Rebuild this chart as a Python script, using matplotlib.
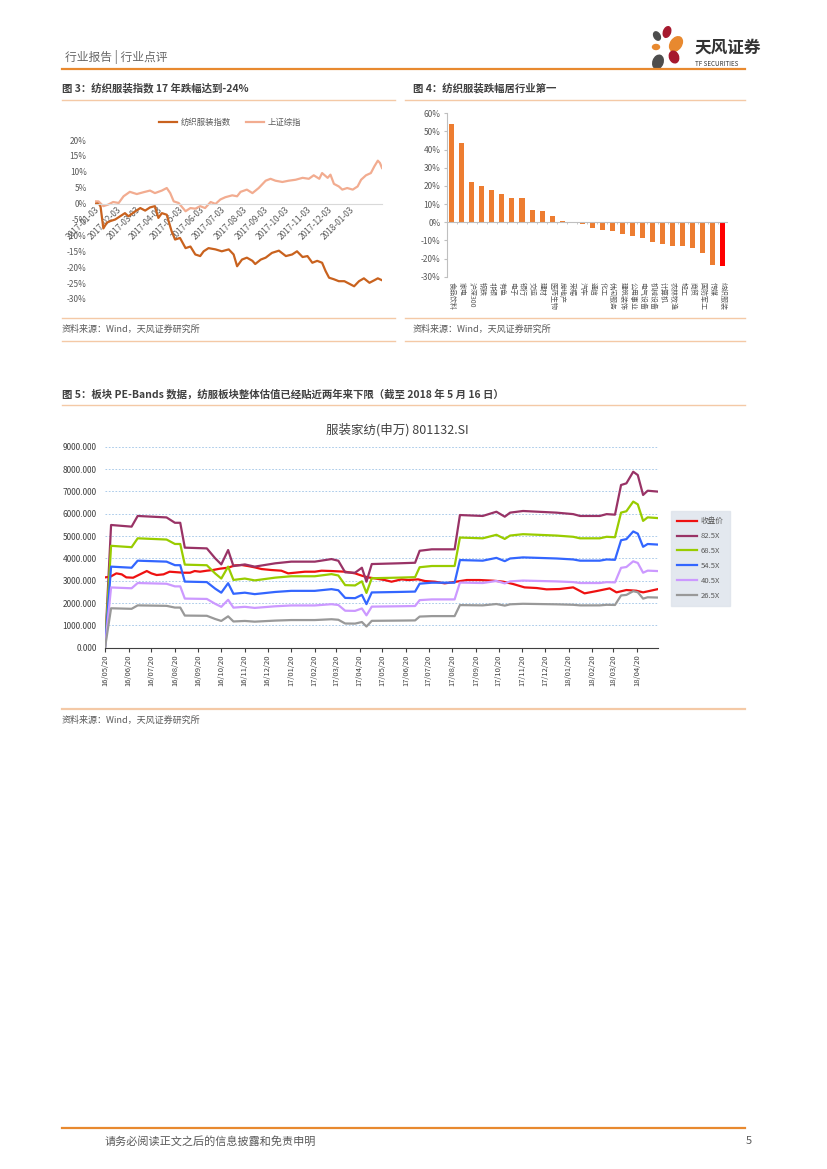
import matplotlib
matplotlib.use('Agg')
import matplotlib.pyplot as plt
from matplotlib.lines import Line2D
from matplotlib.patches import Ellipse
import numpy as np
import pandas as pd

plt.rcParams['font.family'] = ['Noto Sans CJK SC', 'DejaVu Sans']

# 图3: 纺织服装指数 / 上证综指 累计涨跌幅 (%), 以 2017-01-03 起的天数计
idx_days = [0, 5, 8, 12, 17, 22, 29, 36, 43, 48, 58, 65, 72, 79, 86, 91, 96, 103, 110, 115,
            122, 130, 137, 144, 151, 156, 163, 173, 182, 192, 199, 204, 211, 218, 226, 230,
            238, 245, 254, 264, 274, 283, 290, 298, 305, 312, 319, 326, 331, 336, 343, 350,
            358, 365, 372, 379, 386, 394, 401, 406, 412]
idx_vals = [0.0, 0.3, -1.0, -7.8, -6.0, -5.5, -5.0, -4.0, -3.0, -4.0, -2.4, -1.4, -2.2, -1.2,
            -0.8, -4.5, -3.0, -3.5, -8.7, -11.3, -10.8, -14.0, -13.5, -16.0, -16.5, -15.0,
            -14.0, -14.4, -15.0, -14.4, -16.0, -19.7, -17.6, -17.0, -18.0, -19.0, -17.6, -17.0,
            -15.5, -14.8, -16.5, -16.0, -15.0, -16.8, -16.5, -18.6, -18.0, -18.6, -21.2, -23.3,
            -23.8, -24.4, -24.4, -25.2, -26.0, -24.4, -23.5, -24.9, -24.1, -23.5, -24.1]
sh_days = [0, 5, 12, 19, 26, 34, 41, 50, 60, 70, 79, 86, 96, 103, 108, 113, 120, 130, 137, 144,
           151, 158, 166, 173, 180, 187, 197, 204, 209, 218, 226, 235, 245, 252, 259, 269, 278,
           288, 298, 307, 314, 322, 326, 334, 338, 343, 350, 355, 362, 370, 377, 382, 389, 396,
           401, 406, 409, 412]
sh_vals = [0.7, 0.7, -0.8, -0.3, 0.5, 0.2, 2.3, 3.7, 3.0, 3.6, 4.1, 3.3, 4.1, 4.9, 3.3, 0.7, 0.2,
           -2.4, -1.4, -1.6, -0.8, -1.4, 0.5, -0.1, 1.3, 2.0, 2.6, 2.3, 3.7, 4.4, 3.3, 4.9, 7.2,
           7.8, 7.2, 6.8, 7.2, 7.5, 8.1, 7.8, 8.9, 7.8, 9.6, 8.1, 9.1, 6.2, 5.4, 4.4, 4.9, 4.4,
           5.4, 7.5, 8.9, 9.6, 11.7, 13.5, 12.8, 11.2]

# 图4: 各行业涨跌幅 (%)
industries = ['食品饮料', '家电', '沪深300', '钢铁', '非银', '有色', '电子', '银行', '交运', '建材',
              '医药生物', '房地产', '采掘', '汽车', '通信', '化工', '休闲服务', '建筑装饰', '公用事业',
              '电气设备', '机械设备', '计算机', '农林牧渔', '轻工', '商贸', '国防军工', '传媒', '纺织服装']
ind_change = [54.0, 43.4, 21.9, 19.9, 17.5, 15.4, 13.6, 13.4, 6.6, 6.1, 3.7, 0.9, -0.4, -0.9,
              -3.3, -4.2, -4.6, -6.6, -7.7, -8.8, -10.7, -11.9, -13.1, -13.1, -14.2, -17.1,
              -23.7, -24.3]

# 图5: 收盘价与 PE-Bands, 以 2016-05-20 起的天数计
close_days = [0, 7, 15, 22, 28, 37, 46, 55, 61, 68, 77, 85, 103, 112, 118, 125, 134, 142, 151,
              162, 171, 180, 188, 197, 206, 219, 232, 241, 250, 263, 276, 285, 298, 316, 329, 338,
              346, 355, 368, 377, 390, 399, 412, 421, 434, 447, 462, 476, 493, 511, 524, 537,
              552, 568, 581, 598, 616, 631, 647, 664, 673, 686, 699, 708, 728]
close_vals = [3149, 3179, 3328, 3284, 3149, 3134, 3284, 3433, 3328, 3254, 3284, 3403, 3358, 3358,
              3433, 3403, 3448, 3478, 3537, 3582, 3687, 3701, 3657, 3597, 3522, 3478, 3448, 3328,
              3358, 3403, 3403, 3448, 3433, 3403, 3328, 3224, 3149, 3104, 3030, 2955, 3060, 3030,
              3060, 2985, 2955, 2881, 2955, 3030, 3030, 3000, 2955, 2851, 2701, 2672, 2612, 2627,
              2701, 2433, 2537, 2657, 2478, 2582, 2552, 2478, 2627]
eps_days = [0, 8, 35, 43, 81, 92, 99, 105, 134, 145, 153, 162, 169, 184, 197, 224, 245, 276, 298,
            307, 316, 329, 338, 344, 351, 386, 408, 414, 430, 460, 467, 497, 515, 526, 533, 550,
            594, 616, 625, 651, 660, 671, 679, 686, 695, 701, 708, 714, 728]
eps_vals = [0, 66.6, 65.7, 71.5, 70.7, 67.8, 67.8, 54.3, 53.9, 48.5, 45.2, 53.0, 44.3, 45.2, 44.0,
            45.8, 46.7, 46.7, 48.1, 47.2, 40.9, 40.7, 43.4, 35.8, 45.4, 45.8, 46.1, 52.6, 53.4,
            53.4, 72.0, 71.5, 73.8, 71.1, 73.3, 74.2, 73.3, 72.5, 71.5, 71.5, 72.5, 72.2, 88.3,
            89.2, 95.5, 93.7, 82.9, 85.2, 84.7]
pe_multiples = [82.5, 68.5, 54.5, 40.5, 26.5]
band_colors = ['#993366', '#99CC00', '#3366FF', '#CC99FF', '#999999']

W, H = 827, 1169
ORANGE = '#E8892F'
RULE = '#F4C9A6'
GREY = '#595959'


def fx(x):
    return x / W


def fy(y):
    return 1 - y / H


def rect(l, t, r, b):
    return [l / W, 1 - b / H, (r - l) / W, (b - t) / H]


def hline(y, x0, x1, color, lw):
    fig.add_artist(Line2D([fx(x0), fx(x1)], [fy(y), fy(y)], color=color, lw=lw,
                          transform=fig.transFigure))


fig = plt.figure(figsize=(8.27, 11.69), dpi=100, facecolor='white')

# 页眉
fig.text(fx(65), fy(57), '行业报告 | 行业点评', fontsize=8.5, color='#666666', va='center')
hline(68.5, 62, 745, ORANGE, 1.6)
logo = fig.add_axes(rect(640, 22, 700, 72))
logo.set_xlim(640, 700)
logo.set_ylim(72, 22)
logo.axis('off')
for (cx, cy, w, h, a, c) in [(657, 36, 6, 9, -30, '#4D4D4D'), (667, 32, 7, 11, 20, '#A6192E'),
                             (676, 44, 11, 16, 35, '#E8892F'), (656, 47, 7, 5, 0, '#E8892F'),
                             (674, 57, 9, 12, -20, '#A6192E'), (658, 62, 10, 14, 20, '#4D4D4D')]:
    logo.add_patch(Ellipse((cx, cy), w, h, angle=a, color=c))
fig.text(fx(694), fy(48), '天风证券', fontsize=12, fontweight='bold', color='#333333', va='center')
fig.text(fx(695), fy(64), 'TF SECURITIES', fontsize=4.5, color='#333333', va='center')

# 标题
fig.text(fx(62), fy(88), '图 3：纺织服装指数 17 年跌幅达到-24%', fontsize=7.5, fontweight='bold',
         color='#404040', va='center')
fig.text(fx(413), fy(88), '图 4：纺织服装跌幅居行业第一', fontsize=7.5, fontweight='bold',
         color='#404040', va='center')
hline(100, 62, 395, RULE, 1.0)
hline(100, 405, 745, RULE, 1.0)
hline(318, 62, 395, RULE, 1.0)
hline(318, 405, 745, RULE, 1.0)
hline(341, 62, 395, RULE, 1.0)
hline(341, 405, 745, RULE, 1.0)
fig.text(fx(62), fy(329), '资料来源：Wind，天风证券研究所', fontsize=6.5, color=GREY, va='center')
fig.text(fx(413), fy(329), '资料来源：Wind，天风证券研究所', fontsize=6.5, color=GREY, va='center')

# 图3
ax3 = fig.add_axes(rect(95, 140, 382, 299))
start3 = pd.Timestamp('2017-01-03')
l1, = ax3.plot(start3 + pd.to_timedelta(idx_days, unit='D'), idx_vals, color='#C9621E', lw=1.6)
l2, = ax3.plot(start3 + pd.to_timedelta(sh_days, unit='D'), sh_vals, color='#F2AC90', lw=1.6)
ax3.set_xlim(start3, start3 + pd.Timedelta(days=412))
ax3.set_ylim(-30, 20)
ax3.set_yticks(range(-30, 21, 5))
ax3.set_yticklabels([f'{v}%' for v in range(-30, 21, 5)])
for s in ['top', 'right', 'left']:
    ax3.spines[s].set_visible(False)
ax3.spines['bottom'].set_position(('data', 0))
ax3.spines['bottom'].set_color('#D9D9D9')
ticks3 = pd.date_range('2017-01-03', '2018-01-03', freq=pd.DateOffset(months=1))
ax3.set_xticks(ticks3)
ax3.set_xticklabels([d.strftime('%Y-%m-%d') for d in ticks3])
ax3.tick_params(axis='x', length=0, pad=1, labelsize=6, labelcolor=GREY)
ax3.tick_params(axis='y', length=0, pad=6, labelsize=6, labelcolor=GREY)
for lbl in ax3.get_xticklabels():
    lbl.set_rotation(45)
    lbl.set_ha('right')
    lbl.set_va('top')
    lbl.set_rotation_mode('anchor')
ax3.set_facecolor('none')
fig.legend([l1, l2], ['纺织服装指数', '上证综指'], loc='center', bbox_to_anchor=(fx(230), fy(122)),
           ncol=2, frameon=False, fontsize=6, handlelength=2.2, columnspacing=1.8,
           handletextpad=0.4, labelcolor=GREY)

# 图4
ax4 = fig.add_axes(rect(446.7, 113.3, 727.8, 276.7))
x4 = np.arange(len(industries))
bar_colors = ['#ED7D31'] * (len(industries) - 1) + ['#FF0000']
ax4.bar(x4, ind_change, width=0.5, color=bar_colors)
ax4.set_xlim(-0.5, len(industries) - 0.5)
ax4.set_ylim(-30, 60)
ax4.axhline(0, color='#BFBFBF', lw=0.8)
ax4.vlines(np.arange(len(industries) + 1) - 0.5, -1.0, 0, color='#BFBFBF', lw=0.6)
ax4.set_yticks(range(-30, 61, 10))
ax4.set_yticklabels([f'{v}%' for v in range(-30, 61, 10)])
ax4.set_xticks(x4)
ax4.set_xticklabels(industries, rotation=270, fontsize=5, color=GREY, va='top', ha='center')
ax4.tick_params(axis='x', length=0, pad=3.6)
ax4.tick_params(axis='y', length=2.5, color='#BFBFBF', labelsize=6, labelcolor=GREY, pad=2)
for s in ['top', 'right', 'bottom']:
    ax4.spines[s].set_visible(False)
ax4.spines['left'].set_color('#BFBFBF')
ax4.set_facecolor('none')

# 图5
fig.text(fx(62), fy(394), '图 5：板块 PE-Bands 数据，纺服板块整体估值已经贴近两年来下限（截至 2018 年 5 月 16 日）',
         fontsize=7.5, fontweight='bold', color='#404040', va='center')
hline(405, 62, 745, RULE, 1.0)
fig.text(fx(397), fy(430), '服装家纺(申万) 801132.SI', fontsize=9, color='#404040',
         ha='center', va='center')
ax5 = fig.add_axes(rect(105, 446.7, 658.3, 647.7))
start5 = pd.Timestamp('2016-05-20')
handles = []
lc, = ax5.plot(start5 + pd.to_timedelta(close_days, unit='D'), close_vals, color='#EE1111', lw=1.6)
handles.append(lc)
eps = np.array(eps_vals)
band_dates = start5 + pd.to_timedelta(eps_days, unit='D')
for m, c in zip(pe_multiples, band_colors):
    lb, = ax5.plot(band_dates, eps * m, color=c, lw=1.6)
    handles.append(lb)
ax5.set_xlim(start5, start5 + pd.Timedelta(days=728))
ax5.set_ylim(0, 9000)
ax5.set_yticks(range(0, 9001, 1000))
ax5.set_yticklabels([f'{v:.3f}' for v in range(0, 9001, 1000)])
ax5.yaxis.grid(True, linestyle=(0, (2, 2)), color='#9DC3E6', lw=0.6)
ax5.set_axisbelow(True)
ticks5 = pd.date_range('2016-05-20', '2018-04-20', freq=pd.DateOffset(months=1))
ax5.set_xticks(ticks5)
ax5.set_xticklabels([d.strftime('%y/%m/%d') for d in ticks5], rotation=90)
ax5.tick_params(axis='x', length=3, color='#404040', labelsize=5.5, labelcolor='#404040', pad=2)
ax5.tick_params(axis='y', length=0, labelsize=6, labelcolor='#404040', pad=6)
for s in ['top', 'right', 'left']:
    ax5.spines[s].set_visible(False)
ax5.spines['bottom'].set_color('#404040')
leg5 = fig.legend(handles, ['收盘价'] + [f'{m}X' for m in pe_multiples], loc='center',
                  bbox_to_anchor=(fx(700.5), fy(558.5)), fontsize=5.5, frameon=True,
                  fancybox=False, handlelength=2.6, labelspacing=0.9, handletextpad=0.5,
                  labelcolor=GREY, borderpad=0.8)
leg5.get_frame().set_facecolor('#DDE3EB')
leg5.get_frame().set_edgecolor('#DDE3EB')

hline(709, 62, 745, RULE, 1.6)
fig.text(fx(62), fy(720), '资料来源：Wind，天风证券研究所', fontsize=6.5, color=GREY, va='center')

# 页脚
hline(1128, 62, 745, ORANGE, 1.6)
fig.text(fx(105), fy(1141), '请务必阅读正文之后的信息披露和免责申明', fontsize=8, color=GREY, va='center')
fig.text(fx(752), fy(1141), '5', fontsize=8, color=GREY, va='center', ha='right')

fig.savefig('out.png', dpi=100, facecolor='white')
